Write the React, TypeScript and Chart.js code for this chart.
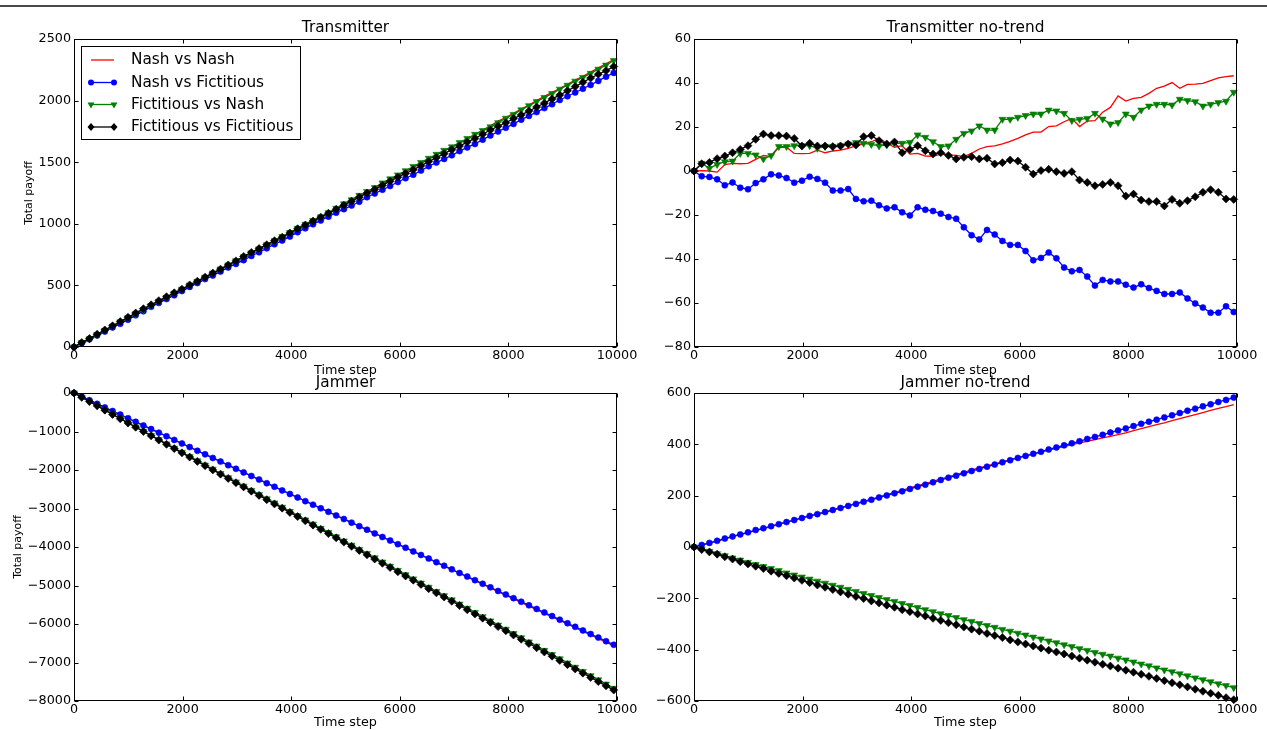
import React, { useEffect, useRef } from "react";
import { Chart, registerables } from "chart.js";

Chart.register(...registerables);

const FONT = '"DejaVu Sans", "Liberation Sans", sans-serif';

// ---------- data ----------
const timeSteps = [0,142,284,426,568,710,852,994,1136,1278,1420,1562,1704,1846,1988,2130,2272,2414,2556,2698,2840,2982,3124,3266,3408,3550,3692,3834,3976,4118,4260,4402,4544,4686,4828,4970,5112,5254,5396,5538,5680,5822,5964,6106,6248,6390,6532,6674,6816,6958,7100,7242,7384,7526,7668,7810,7952,8094,8236,8378,8520,8662,8804,8946,9088,9230,9372,9514,9656,9798,9940];

const seriesLabels = ["Nash vs Nash", "Nash vs Fictitious", "Fictitious vs Nash", "Fictitious vs Fictitious"];

// Transmitter total payoff
const transNashNash = [0,33,65,97,134,168,199,233,267,301,334,371,403,433,466,499,533,564,598,631,664,698,731,765,800,831,861,895,924,956,988,1021,1054,1086,1119,1152,1185,1220,1254,1286,1320,1355,1388,1422,1457,1490,1524,1558,1592,1626,1655,1691,1723,1760,1795,1833,1863,1897,1931,1964,2000,2034,2067,2098,2132,2166,2198,2232,2266,2299,2332];
const transNashFict = [0,31,62,94,125,159,188,221,257,290,326,358,389,420,454,488,519,551,580,612,646,674,705,739,769,801,834,864,896,932,963,996,1027,1058,1090,1119,1148,1179,1216,1246,1276,1307,1339,1370,1398,1432,1467,1497,1526,1556,1590,1620,1648,1683,1716,1749,1779,1811,1845,1876,1907,1939,1971,2005,2035,2066,2096,2127,2160,2194,2225];
const transFictNash = [0,37,66,101,135,169,204,237,269,300,334,371,403,437,470,503,533,567,600,633,666,700,732,764,796,830,863,896,929,964,996,1027,1057,1090,1126,1162,1195,1231,1262,1294,1332,1365,1397,1431,1465,1498,1532,1564,1596,1625,1659,1692,1726,1757,1787,1821,1857,1888,1925,1959,1992,2025,2057,2093,2125,2158,2188,2221,2255,2288,2325];
const transFictFict = [0,36,69,104,138,172,206,241,276,311,343,376,408,440,469,504,534,567,600,632,666,699,735,768,799,830,863,891,926,960,990,1022,1054,1086,1118,1151,1184,1216,1249,1278,1312,1346,1378,1408,1438,1472,1505,1537,1569,1602,1631,1663,1693,1727,1761,1792,1820,1854,1884,1915,1948,1979,2014,2045,2080,2114,2148,2183,2214,2243,2276];

// Transmitter no-trend
const transNtNashNash = [0,0.2,0,-0.5,2.9,3.5,3.3,3.5,5.3,7.1,6.5,10.9,10.8,8.0,7.9,8.0,9.5,8.3,9.1,9.5,10.3,11.4,12.3,13.3,14.8,12.6,10.8,11.5,7.7,8.0,6.8,6.7,7.7,7.3,7.1,6.5,8.0,10.0,11.1,11.4,12.3,13.5,14.8,16.4,17.7,17.7,20.2,20.5,22.4,23.9,20.2,22.7,22.9,26.7,28.9,34.1,31.8,33.0,33.5,35.3,37.6,38.6,40.2,37.6,39.4,39.5,39.8,41.1,42.3,42.9,43.3];
const transNtNashFict = [0,-2.4,-2.7,-3.8,-6.5,-5.2,-7.6,-8.3,-5.5,-3.8,-1.5,-2.0,-3.2,-5.3,-4.4,-2.6,-3.6,-5.3,-8.9,-8.9,-8.2,-12.7,-13.8,-13.5,-15.6,-17.0,-16.5,-18.8,-20.2,-16.5,-17.6,-18.2,-19.4,-20.9,-21.7,-25.6,-29.2,-31.1,-26.8,-28.9,-31.8,-33.6,-33.6,-36.4,-40.6,-39.5,-37.1,-39.7,-43.9,-45.6,-45.0,-48.0,-52.1,-49.5,-50.2,-50.2,-51.7,-53.0,-51.5,-53.2,-54.5,-55.9,-55.9,-55.2,-57.9,-60.2,-62.1,-64.4,-64.4,-61.5,-64.1];
const transNtFictNash = [0,3.5,1.2,3.0,4.2,4.5,8.0,8.0,7.3,5.5,7.0,11.1,11.1,11.5,11.5,11.5,10.3,11.1,11.1,11.5,12.3,12.9,12.6,12.1,11.4,11.8,12.6,12.6,13.0,16.4,15.3,13.3,11.1,11.4,14.4,17.1,18.2,20.5,18.6,18.6,23.5,23.5,24.4,25.2,25.9,25.9,27.7,27.3,26.2,22.9,23.5,23.9,26.2,23.6,21.4,22.0,25.9,24.4,27.7,29.5,30.3,30.3,30.0,32.6,32.0,31.5,29.5,30.3,31.1,31.7,35.8];
const transNtFictFict = [0,3.3,3.9,5.6,6.8,8.3,9.8,11.5,14.4,16.8,16.1,16.1,15.9,14.8,11.4,12.6,11.4,11.4,11.1,11.4,12.3,11.8,15.6,16.1,13.8,12.3,13.2,8.3,9.8,11.5,9.2,7.7,8.3,7.1,5.5,6.2,6.5,5.5,5.8,3.2,3.8,5.0,4.5,1.7,-1.4,0.2,0.8,-0.3,-1.1,-0.3,-4.1,-5.2,-6.7,-6.1,-5.2,-6.7,-11.4,-10.5,-13.2,-13.9,-13.9,-15.9,-12.9,-14.7,-13.5,-11.7,-9.7,-8.5,-9.7,-12.7,-12.9];

// Jammer total payoff
const jamNashNash = [0,-95,-188,-282,-375,-469,-562,-656,-750,-844,-937,-1030,-1124,-1218,-1311,-1405,-1499,-1593,-1686,-1780,-1874,-1967,-2060,-2153,-2247,-2340,-2432,-2526,-2619,-2711,-2805,-2898,-2991,-3084,-3177,-3270,-3363,-3456,-3550,-3644,-3738,-3831,-3925,-4020,-4114,-4208,-4303,-4398,-4493,-4586,-4681,-4777,-4872,-4967,-5063,-5158,-5252,-5346,-5440,-5534,-5627,-5722,-5816,-5910,-6003,-6097,-6191,-6285,-6378,-6473,-6567];
const jamNashFict = [0,-94,-187,-281,-374,-468,-561,-655,-748,-843,-936,-1030,-1124,-1218,-1311,-1405,-1500,-1594,-1687,-1781,-1875,-1969,-2062,-2156,-2249,-2343,-2436,-2530,-2623,-2715,-2809,-2902,-2995,-3087,-3181,-3274,-3367,-3460,-3553,-3647,-3740,-3833,-3926,-4020,-4114,-4207,-4300,-4394,-4488,-4581,-4675,-4768,-4861,-4955,-5048,-5142,-5235,-5328,-5421,-5515,-5608,-5701,-5795,-5888,-5980,-6074,-6167,-6261,-6353,-6447,-6540];
const jamFictNash = [0,-111,-220,-331,-441,-552,-661,-772,-882,-992,-1101,-1211,-1322,-1432,-1541,-1651,-1761,-1871,-1980,-2090,-2200,-2310,-2419,-2529,-2639,-2749,-2857,-2967,-3077,-3186,-3296,-3406,-3516,-3624,-3734,-3844,-3953,-4062,-4172,-4281,-4391,-4499,-4609,-4718,-4828,-4936,-5046,-5155,-5265,-5373,-5483,-5592,-5701,-5810,-5919,-6029,-6137,-6247,-6357,-6466,-6575,-6685,-6794,-6904,-7013,-7123,-7232,-7342,-7451,-7560,-7670];
const jamFictFict = [0,-112,-222,-333,-445,-556,-667,-778,-889,-1000,-1111,-1222,-1333,-1444,-1554,-1665,-1776,-1887,-1997,-2108,-2219,-2330,-2439,-2550,-2660,-2771,-2880,-2991,-3101,-3211,-3321,-3432,-3542,-3652,-3762,-3873,-3983,-4092,-4203,-4313,-4423,-4533,-4643,-4753,-4863,-4972,-5082,-5191,-5301,-5410,-5520,-5630,-5739,-5849,-5958,-6068,-6177,-6287,-6397,-6507,-6616,-6727,-6837,-6947,-7056,-7167,-7277,-7387,-7496,-7607,-7717];

// Jammer no-trend
const jamNtNashNash = [0,7,15,23,32,40,48,56,64,72,80,89,97,105,113,121,129,137,145,153,161,170,178,187,195,204,213,221,230,239,247,256,265,273,282,291,300,308,316,324,332,340,348,355,363,370,377,384,391,399,406,412,418,425,431,438,445,453,461,469,477,484,492,500,508,516,524,532,540,547,555];
const jamNtNashFict = [0,8,16,24,33,41,49,57,66,73,81,89,97,105,113,121,128,136,144,152,160,168,176,184,193,201,209,217,226,235,243,252,261,270,278,287,296,304,313,321,330,338,347,355,363,371,380,388,396,404,412,421,429,437,446,454,462,471,480,488,496,505,513,522,531,539,548,556,565,573,582];
const jamNtFictNash = [0,-9,-17,-26,-34,-43,-51,-60,-68,-76,-84,-92,-101,-109,-117,-125,-133,-141,-149,-157,-165,-173,-181,-189,-197,-205,-212,-220,-228,-236,-244,-252,-260,-267,-275,-283,-290,-298,-306,-313,-321,-328,-336,-343,-351,-358,-366,-373,-381,-388,-396,-403,-411,-418,-425,-433,-440,-448,-456,-463,-471,-479,-486,-494,-502,-510,-517,-525,-533,-540,-548];
const jamNtFictFict = [0,-10,-19,-28,-38,-47,-57,-66,-75,-84,-94,-103,-112,-121,-130,-139,-148,-157,-166,-175,-184,-193,-201,-210,-218,-227,-235,-244,-252,-261,-269,-278,-286,-295,-303,-312,-320,-328,-337,-345,-353,-362,-370,-378,-386,-394,-402,-409,-417,-425,-433,-441,-449,-457,-464,-472,-480,-488,-496,-504,-512,-521,-529,-537,-545,-554,-562,-570,-578,-587,-595];

// tick values
const xTickValues = [0, 2000, 4000, 6000, 8000, 10000];
const yTicksTrans = [0, 500, 1000, 1500, 2000, 2500];
const yTicksTransNt = [-80, -60, -40, -20, 0, 20, 40, 60];
const yTicksJam = [-8000, -7000, -6000, -5000, -4000, -3000, -2000, -1000, 0];
const yTicksJamNt = [-600, -400, -200, 0, 200, 400, 600];

// ---------- styles ----------
const seriesColors = ["#ff0000", "#0000ff", "#007f00", "#000000"];
const seriesMarkers = ["none", "circle", "tri", "diamond"];

function fmt(v: number): string {
  return String(v).replace("-", "\u2212");
}

function drawMarker(ctx: CanvasRenderingContext2D, kind: string, x: number, y: number, color: string) {
  ctx.fillStyle = color;
  ctx.beginPath();
  if (kind === "circle") {
    ctx.arc(x, y, 3, 0, Math.PI * 2);
  } else if (kind === "tri") {
    ctx.moveTo(x - 3.5, y - 2);
    ctx.lineTo(x + 3.5, y - 2);
    ctx.lineTo(x, y + 4);
    ctx.closePath();
  } else if (kind === "diamond") {
    ctx.moveTo(x, y - 4);
    ctx.lineTo(x + 3.5, y);
    ctx.lineTo(x, y + 4);
    ctx.lineTo(x - 3.5, y);
    ctx.closePath();
  } else {
    return;
  }
  ctx.fill();
}

const framePlugin = {
  id: "frameTicks",
  afterDatasetsDraw(chart: any) {
    const { ctx, chartArea: a, scales } = chart;
    const L = Math.round(a.left) + 0.5;
    const R = Math.round(a.right) - 0.5;
    const T = Math.round(a.top) + 0.5;
    const B = Math.round(a.bottom) - 0.5;
    ctx.save();
    ctx.strokeStyle = "#000";
    ctx.lineWidth = 1;
    ctx.strokeRect(L, T, R - L, B - T);
    const len = 4;
    ctx.beginPath();
    for (const t of scales.x.ticks) {
      const px = Math.round(scales.x.getPixelForValue(t.value)) + 0.5;
      ctx.moveTo(px, B);
      ctx.lineTo(px, B - len);
      ctx.moveTo(px, T);
      ctx.lineTo(px, T + len);
    }
    for (const t of scales.y.ticks) {
      const py = Math.round(scales.y.getPixelForValue(t.value)) + 0.5;
      ctx.moveTo(L, py);
      ctx.lineTo(L + len, py);
      ctx.moveTo(R, py);
      ctx.lineTo(R - len, py);
    }
    ctx.stroke();
    ctx.restore();
  },
};

const legendPlugin = {
  id: "boxLegend",
  afterDraw(chart: any) {
    const ctx: CanvasRenderingContext2D = chart.ctx;
    const x0 = 81, y0 = 46, x1 = 300, y1 = 139;
    const rows = [60, 82.5, 104.5, 127];
    ctx.save();
    ctx.fillStyle = "#fff";
    ctx.fillRect(x0, y0, x1 - x0, y1 - y0);
    ctx.strokeStyle = "#000";
    ctx.lineWidth = 1;
    ctx.strokeRect(x0 + 0.5, y0 + 0.5, x1 - x0, y1 - y0);
    seriesLabels.forEach((label, k) => {
      const y = rows[k];
      ctx.strokeStyle = seriesColors[k];
      ctx.lineWidth = 1.3;
      ctx.beginPath();
      ctx.moveTo(91, y);
      ctx.lineTo(114, y);
      ctx.stroke();
      drawMarker(ctx, seriesMarkers[k], 91, y, seriesColors[k]);
      drawMarker(ctx, seriesMarkers[k], 114, y, seriesColors[k]);
      ctx.fillStyle = "#000";
      ctx.font = `15.3px ${FONT}`;
      ctx.textBaseline = "middle";
      ctx.textAlign = "left";
      ctx.fillText(label, 131, y + 0.5);
    });
    ctx.restore();
  },
};

type PanelSpec = {
  key: string;
  left: number;
  top: number;
  w: number;
  h: number;
  title: string;
  titlePadTop: number;
  titlePadBottom: number;
  yTicks: number[];
  series: number[][];
  yTitlePad: number | null;
  xTitlePadBottom: number;
  xAxisH: number;
  padBottom: number;
  legend: boolean;
};

const panels: PanelSpec[] = [
  { key: "tl", left: 0, top: 0, w: 642, h: 390, title: "Transmitter", titlePadTop: 18, titlePadBottom: 1,
    yTicks: yTicksTrans, series: [transNashNash, transNashFict, transFictNash, transFictFict],
    yTitlePad: 22.5, xTitlePadBottom: 2, xAxisH: 33, padBottom: 10, legend: true },
  { key: "tr", left: 620, top: 0, w: 642, h: 390, title: "Transmitter no-trend", titlePadTop: 18, titlePadBottom: 1,
    yTicks: yTicksTransNt, series: [transNtNashNash, transNtNashFict, transNtFictNash, transNtFictFict],
    yTitlePad: null, xTitlePadBottom: 2, xAxisH: 33, padBottom: 10, legend: false },
  { key: "bl", left: 0, top: 350, w: 642, h: 380, title: "Jammer", titlePadTop: 23, titlePadBottom: 0,
    yTicks: yTicksJam, series: [jamNashNash, jamNashFict, jamFictNash, jamFictFict],
    yTitlePad: 11.5, xTitlePadBottom: 0, xAxisH: 29, padBottom: 0, legend: false },
  { key: "br", left: 620, top: 350, w: 642, h: 380, title: "Jammer no-trend", titlePadTop: 23, titlePadBottom: 0,
    yTicks: yTicksJamNt, series: [jamNtNashNash, jamNtNashFict, jamNtFictNash, jamNtFictFict],
    yTitlePad: null, xTitlePadBottom: 0, xAxisH: 29, padBottom: 0, legend: false },
];

function buildConfig(spec: PanelSpec): any {
  const datasets = spec.series.map((vals, k) => ({
    label: seriesLabels[k],
    data: timeSteps.map((x, i) => ({ x, y: vals[i] })),
    borderColor: seriesColors[k],
    backgroundColor: seriesColors[k],
    borderWidth: 1.3,
    pointRadius: k === 0 ? 0 : k === 1 ? 3 : 4,
    pointStyle: ["circle", "circle", "triangle", "rectRot"][k],
    pointRotation: k === 2 ? 180 : 0,
    pointBorderWidth: 0.6,
    pointBorderColor: seriesColors[k],
    pointBackgroundColor: seriesColors[k],
    tension: 0,
    order: 4 - k,
    clip: 6,
  }));
  const yVals = spec.yTicks;
  return {
    type: "line",
    data: { datasets },
    options: {
      responsive: false,
      animation: false,
      devicePixelRatio: 1,
      events: [],
      layout: { padding: { left: 0, top: 0, right: 25, bottom: spec.padBottom } },
      plugins: {
        legend: { display: false },
        tooltip: { enabled: false },
        title: {
          display: true,
          text: spec.title,
          color: "#000",
          fullSize: false,
          font: { family: FONT, size: 15.3, weight: "normal", lineHeight: "20px" },
          padding: { top: spec.titlePadTop, bottom: spec.titlePadBottom },
        },
      },
      scales: {
        x: {
          type: "linear",
          min: xTickValues[0],
          max: xTickValues[xTickValues.length - 1],
          afterBuildTicks: (s: any) => { s.ticks = xTickValues.map((value) => ({ value })); },
          afterFit: (s: any) => { s.height = spec.xAxisH; },
          grid: { display: false, drawTicks: false, tickLength: 0 },
          border: { display: false },
          ticks: {
            color: "#000",
            font: { family: FONT, size: 12.75 },
            padding: 1,
            maxRotation: 0,
            autoSkip: false,
            callback: (v: number) => fmt(v),
          },
          title: {
            display: true,
            text: "Time step",
            color: "#000",
            font: { family: FONT, size: 12.75, lineHeight: "14px" },
            padding: { top: 0, bottom: spec.xTitlePadBottom },
          },
        },
        y: {
          type: "linear",
          min: yVals[0],
          max: yVals[yVals.length - 1],
          afterBuildTicks: (s: any) => { s.ticks = yVals.map((value) => ({ value })); },
          afterFit: (s: any) => { s.width = 74; },
          grid: { display: false, drawTicks: false, tickLength: 0 },
          border: { display: false },
          ticks: {
            color: "#000",
            font: { family: FONT, size: 12.75 },
            padding: 3,
            autoSkip: false,
            callback: (v: number) => fmt(v),
          },
          title: spec.yTitlePad !== null
            ? {
                display: true,
                text: "Total payoff",
                color: "#000",
                font: { family: FONT, size: 11, lineHeight: "13px" },
                padding: { top: spec.yTitlePad, bottom: 0 },
              }
            : { display: false },
        },
      },
    },
    plugins: spec.legend ? [framePlugin, legendPlugin] : [framePlugin],
  };
}

function Panel({ spec }: { spec: PanelSpec }) {
  const ref = useRef<HTMLCanvasElement>(null);
  useEffect(() => {
    const chart = new Chart(ref.current as HTMLCanvasElement, buildConfig(spec));
    return () => chart.destroy();
  }, [spec]);
  return (
    <canvas
      ref={ref}
      width={spec.w}
      height={spec.h}
      style={{ position: "absolute", left: spec.left, top: spec.top, width: spec.w, height: spec.h }}
    />
  );
}

export default function App() {
  return (
    <div
      style={{
        position: "fixed",
        left: 0,
        top: 0,
        width: 1267,
        height: 730,
        overflow: "hidden",
        background: "#fff",
        fontFamily: FONT,
      }}
    >
      <div style={{ position: "absolute", left: 0, top: 5, width: 1267, height: 2, background: "#4a4a4a" }} />
      {panels.map((p) => (
        <Panel key={p.key} spec={p} />
      ))}
    </div>
  );
}
